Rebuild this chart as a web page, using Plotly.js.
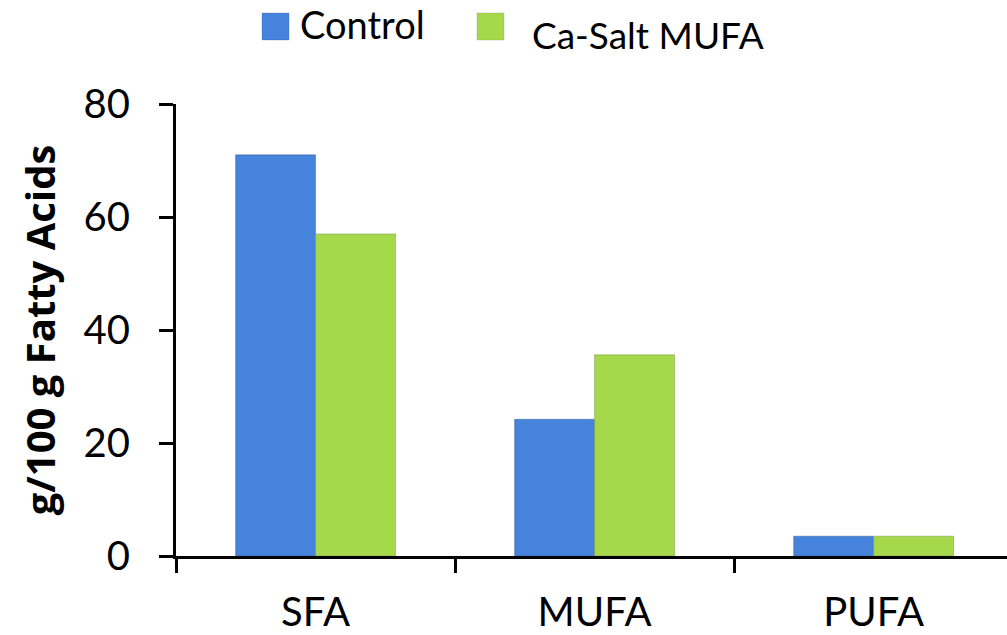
<!DOCTYPE html>
<html>
<head>
<meta charset="utf-8">
<script src="https://cdn.plot.ly/plotly-3.0.1.min.js"></script>
<style>html,body{margin:0;padding:0;background:#fff;}#chart{width:1007px;height:635px;}</style>
</head>
<body>
<div id="chart"></div>
<script>
const categories = ["SFA", "MUFA", "PUFA"];
const seriesNames = ["Control", "Ca-Salt MUFA"];
const controlValues = [71.0, 24.2, 3.5];
const caSaltValues = [57.0, 35.6, 3.5];
const yTicks = [0, 20, 40, 60, 80];
const yTitle = "g/100 g Fatty Acids";

const blue = "#4583dc";
const green = "#a6d84c";
const font = "Lato, 'Open Sans', sans-serif";

const traces = [
  {type: "bar", name: seriesNames[0], x: categories, y: controlValues,
   marker: {color: blue, line: {color: "rgba(60,90,140,0.45)", width: 1}}, showlegend: false},
  {type: "bar", name: seriesNames[1], x: categories, y: caSaltValues,
   marker: {color: green, line: {color: "rgba(110,140,60,0.45)", width: 1}}, showlegend: false}
];

const layout = {
  width: 1007, height: 635,
  margin: {l: 176, r: 0, t: 104, b: 79},
  paper_bgcolor: "#fff", plot_bgcolor: "#fff",
  barmode: "group", bargap: 0.427, bargroupgap: 0,
  font: {family: font, color: "#000"},
  xaxis: {
    type: "category", range: [-0.5, 2.478],
    showline: true, linecolor: "#000", linewidth: 3,
    ticks: "outside", tickson: "boundaries", ticklen: 14, tickwidth: 3, tickcolor: "#000",
    tickfont: {size: 40, family: font}, ticklabelstandoff: 19,
    showgrid: false, zeroline: false, fixedrange: true
  },
  yaxis: {
    range: [0, 80], tickvals: yTicks, ticktext: yTicks.map(String),
    showline: true, linecolor: "#000", linewidth: 3,
    ticks: "outside", ticklen: 14, tickwidth: 3, tickcolor: "#000",
    tickfont: {size: 40, family: font}, ticklabelstandoff: 21,
    showgrid: false, zeroline: false,
    title: {text: yTitle, font: {size: 40, family: "'Open Sans', Lato, sans-serif", weight: "bold"}, standoff: 16}
  },
  shapes: [
    {type: "rect", xref: "paper", yref: "paper", x0: (262-176)/831, x1: (289-176)/831,
     y0: (635-79-40)/452, y1: (635-79-13)/452, fillcolor: blue, line: {width: 0.5, color: "rgba(60,90,140,0.5)"}},
    {type: "rect", xref: "paper", yref: "paper", x0: (477-176)/831, x1: (504-176)/831,
     y0: (635-79-40)/452, y1: (635-79-13)/452, fillcolor: green, line: {width: 0.5, color: "rgba(110,140,60,0.5)"}}
  ],
  annotations: [
    {xref: "paper", yref: "paper", x: (298-176)/831, y: (556-24)/452, xanchor: "left", yanchor: "middle",
     text: seriesNames[0], showarrow: false, font: {size: 38, family: font}},
    {xref: "paper", yref: "paper", x: (530-176)/831, y: (556-35)/452, xanchor: "left", yanchor: "middle",
     text: seriesNames[1], showarrow: false, font: {size: 37, family: font}}
  ]
};

Plotly.newPlot("chart", traces, layout, {staticPlot: true, displayModeBar: false});
</script>
</body>
</html>
